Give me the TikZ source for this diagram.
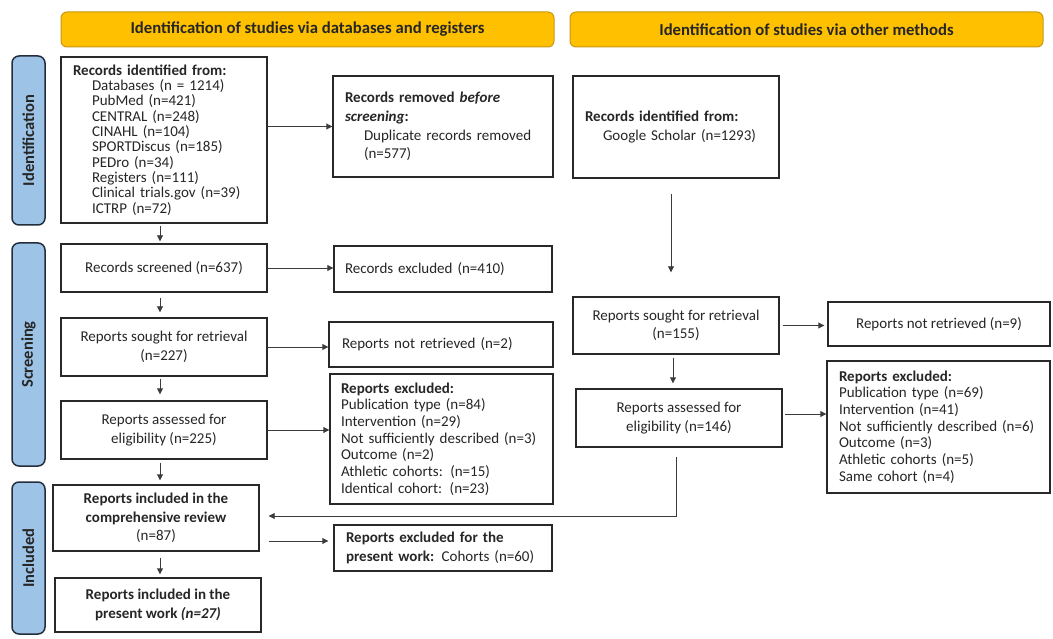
\documentclass[tikz,border=0pt]{standalone}
\usepackage{fontspec}
\setmainfont{Carlito}
\usetikzlibrary{arrows.meta}
\definecolor{hdrfill}{RGB}{255,192,0}
\definecolor{hdrdraw}{RGB}{200,150,20}
\definecolor{barfill}{RGB}{157,195,230}
\definecolor{bardraw}{RGB}{35,45,60}
\definecolor{boxc}{RGB}{40,40,40}
\definecolor{arrc}{RGB}{60,60,60}
\begin{document}
\begin{tikzpicture}[x=1pt,y=-1pt,
  font=\fontsize{15}{18.6}\selectfont,
  hdr/.style={draw=hdrdraw, fill=hdrfill, rounded corners=6pt, line width=1pt, inner sep=0pt,
    font=\bfseries\fontsize{16.7}{18}\selectfont, text=black!85},
  bar/.style={draw=bardraw, fill=barfill, rounded corners=7pt, line width=1.5pt, inner sep=0pt,
    rotate=90, minimum height=33pt, font=\bfseries\fontsize{16.5}{17}\selectfont, text=black!85},
  box/.style={draw=boxc, line width=1.4pt, inner sep=0pt, fill=white, text=black!85},
  lbox/.style={box, align=left},
  cbox/.style={box, align=center},
  arr/.style={draw=arrc, line width=0.9pt, -{Triangle[length=6pt,width=6pt]}}]
\useasboundingbox (0,0) rectangle (1053,639);

% headers
\node[hdr, minimum width=493pt, minimum height=35pt] (hL) at (307.5,29.5) {Identification of studies via databases and registers};
\node[hdr, minimum width=473pt, minimum height=35pt] (hR) at (806.5,29.5) {Identification of studies via other methods};

% side bars
\node[bar, minimum width=169pt] (bI) at (28.5,140.5) {Identification};
\node[bar, minimum width=223pt] (bS) at (28.5,354.5) {Screening};
\node[bar, minimum width=152pt] (bN) at (28.5,558) {Included};

% left column
\node[lbox, minimum width=206pt, minimum height=166pt, text width=182pt,
  font=\fontsize{15}{15.3}\selectfont] (b1) at (164,140) {%
\textbf{Records identified from:}\\
\hspace*{19pt}Databases (n = 1214)\\
\hspace*{19pt}PubMed (n=421)\\
\hspace*{19pt}CENTRAL (n=248)\\
\hspace*{19pt}CINAHL (n=104)\\
\hspace*{19pt}SPORTDiscus (n=185)\\
\hspace*{19pt}PEDro (n=34)\\
\hspace*{19pt}Registers (n=111)\\
\hspace*{19pt}Clinical trials.gov (n=39)\\
\hspace*{19pt}ICTRP (n=72)};
\node[lbox, minimum width=220pt, minimum height=101pt, text width=196pt] (rem) at (443,126.5) {%
\textbf{Records removed \textit{before}}\\
\textbf{\textit{screening}:}\\
\hspace*{19pt}Duplicate records removed\\
\hspace*{19pt}(n=577)};

\node[cbox, minimum width=206pt, minimum height=48pt] (scr) at (164,268) {Records screened (n=637)};
\node[lbox, minimum width=218pt, minimum height=46pt, text width=196pt] (exc1) at (443,269) {Records excluded (n=410)};

\node[cbox, minimum width=206pt, minimum height=58pt] (sought) at (164,347) {Reports sought for retrieval\\(n=227)};
\node[lbox, minimum width=224pt, minimum height=45pt, text width=198pt] (nr1) at (441,344.5) {Reports not retrieved (n=2)};

\node[cbox, minimum width=206pt, minimum height=58pt] (assess) at (164,430) {Reports assessed for\\eligibility (n=225)};
\node[lbox, minimum width=223pt, minimum height=130pt, text width=201pt,
  font=\fontsize{15}{16.7}\selectfont] (ex2) at (441.5,439) {%
\textbf{Reports excluded:}\\
Publication type (n=84)\\
Intervention (n=29)\\
Not sufficiently described (n=3)\\
Outcome (n=2)\\
Athletic cohorts: (n=15)\\
Identical cohort: (n=23)};

\node[cbox, minimum width=206pt, minimum height=66pt] (review) at (156,518) {\textbf{Reports included in the}\\\textbf{comprehensive review}\\(n=87)};
\node[lbox, minimum width=218pt, minimum height=46pt, text width=194pt] (ex3) at (443,548) {%
\textbf{Reports excluded for the}\\
\textbf{present work:} Cohorts (n=60)};

\node[cbox, minimum width=206pt, minimum height=54pt] (present) at (158,605) {\textbf{Reports included in the}\\\textbf{present work \textit{(n=27)}}};

% right column
\node[lbox, minimum width=206pt, minimum height=102pt, text width=182pt] (gs) at (676,127) {%
\textbf{Records identified from:}\\
\hspace*{18pt}Google Scholar (n=1293)};
\node[cbox, minimum width=206pt, minimum height=57pt] (sought2) at (676,325.5) {Reports sought for retrieval\\(n=155)};
\node[cbox, minimum width=222pt, minimum height=44pt] (nr2) at (939,324) {Reports not retrieved (n=9)};
\node[cbox, minimum width=206pt, minimum height=58pt] (assess2) at (679,418) {Reports assessed for\\eligibility (n=146)};
\node[lbox, minimum width=223pt, minimum height=132pt, text width=199pt,
  font=\fontsize{15}{16.7}\selectfont] (ex4) at (938.5,427) {%
\textbf{Reports excluded:}\\
Publication type (n=69)\\
Intervention (n=41)\\
Not sufficiently described (n=6)\\
Outcome (n=3)\\
Athletic cohorts (n=5)\\
Same cohort (n=4)};

% helper coordinates
\coordinate (cx) at (160,0);
\coordinate (cx2) at (671,0);
\coordinate (cx3) at (673,0);
\coordinate (jn) at (676,516);
\coordinate (e3) at (330,541);
\coordinate (e4) at (780,414);

% connectors left
\draw[arr, shorten <=2pt, shorten >=2pt] (b1.south -| cx) -- (scr.north -| cx);
\draw[arr, shorten <=5pt, shorten >=5pt] (scr.south -| cx) -- (sought.north -| cx);
\draw[arr, shorten <=2pt, shorten >=6pt] (sought.south -| cx) -- (assess.north -| cx);
\draw[arr, shorten <=3pt, shorten >=4pt] (assess.south -| cx) -- (review.north -| cx);
\draw[arr, shorten <=6pt, shorten >=3pt] (review.south -| cx) -- (present.north -| cx);

\draw[arr] (b1.east |- rem.west) -- (rem.west);
\draw[arr] (scr.east) -- (scr.east -| exc1.west);
\draw[arr] (sought.east) -- (sought.east -| nr1.west);
\draw[arr] (assess.east) -- (assess.east -| ex2.west);
\draw[arr, shorten <=9pt, shorten >=5pt] (e3 -| review.east) -- (e3 -| ex3.west);

% connectors right
\draw[arr, shorten <=15pt, shorten >=24pt] (gs.south -| cx2) -- (sought2.north -| cx2);
\draw[arr, shorten <=3pt, shorten >=5pt] (sought2.south -| cx3) -- (assess2.north -| cx3);
\draw[arr, shorten <=3pt, shorten >=3pt] (sought2.east) -- (sought2.east -| nr2.west);
\draw[arr, shorten <=2pt] (e4 -| assess2.east) -- (e4 -| ex4.west);
\draw[arr, shorten <=9pt, shorten >=9pt] (assess2.south -| jn) -- (jn) -- (jn -| review.east);
\end{tikzpicture}
\end{document}
